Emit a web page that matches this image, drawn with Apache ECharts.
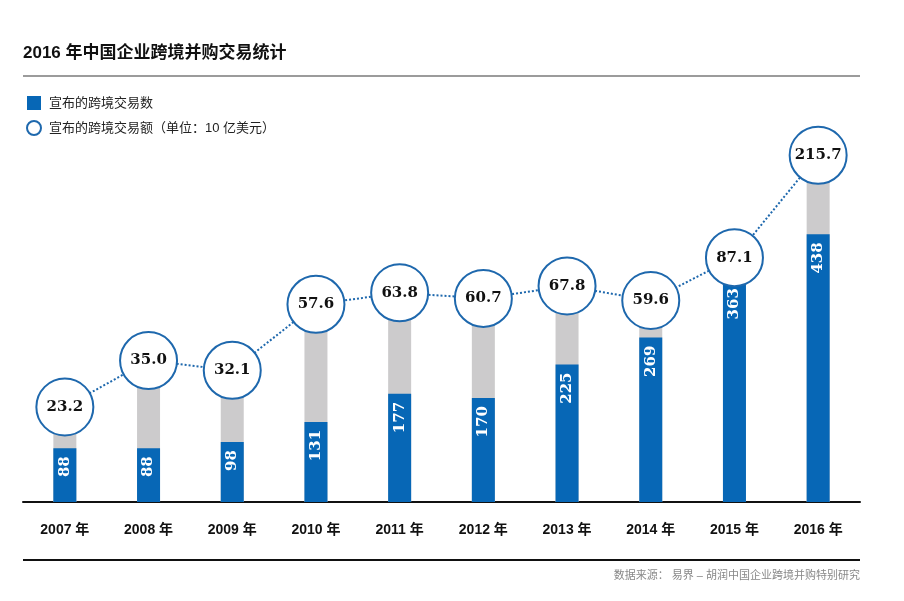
<!DOCTYPE html>
<html>
<head>
<meta charset="utf-8">
<script src="https://cdn.jsdelivr.net/npm/echarts@6/dist/echarts.min.js"></script>
<style>html,body{margin:0;padding:0;background:#fff}#c{width:904px;height:601px}</style>
</head>
<body>
<div id="c"></div>
<script>
var categories = ['2007 年','2008 年','2009 年','2010 年','2011 年','2012 年','2013 年','2014 年','2015 年','2016 年'];
var dealCounts = [88, 88, 98, 131, 177, 170, 225, 269, 363, 438];
var dealValues = [23.2, 35.0, 32.1, 57.6, 63.8, 60.7, 67.8, 59.6, 87.1, 215.7];
var countName = '宣布的跨境交易数';
var valueName = '宣布的跨境交易额（单位：10 亿美元）';

var BLUE = '#0767b6';
var CIRCLE = '#1e68ad';
var GRAY = '#cccbcc';
var chart = echarts.init(document.getElementById('c'));
var serifNum = '"DejaVu Serif", "Liberation Serif", serif';
var sans = '"Liberation Sans", "Noto Sans CJK SC", sans-serif';

chart.setOption({
  animation: false,
  title: {
    text: '2016 年中国企业跨境并购交易统计',
    left: 18, top: 40,
    textStyle: {fontSize: 17, fontWeight: 'bold', color: '#111', fontFamily: sans}
  },
  legend: {
    orient: 'vertical', left: 26, top: 96, padding: 0,
    itemWidth: 14, itemHeight: 14, itemGap: 10,
    textStyle: {fontSize: 13, color: '#222', fontFamily: sans, padding: [0, 0, 0, 3]},
    data: [
      {name: countName, icon: 'rect'},
      {name: valueName, icon: 'circle'}
    ],
    selectedMode: false
  },
  graphic: [
    {type: 'line', shape: {x1: 23, y1: 76, x2: 860, y2: 76}, style: {stroke: '#7a7a7a', lineWidth: 1.5}},
    {type: 'line', shape: {x1: 23, y1: 560, x2: 860, y2: 560}, style: {stroke: '#111', lineWidth: 2}},
    {type: 'text', x: 860, y: 576, style: {text: '数据来源： 易界 – 胡润中国企业跨境并购特别研究', textAlign: 'right', textVerticalAlign: 'middle', fill: '#888', fontSize: 11, fontFamily: sans}}
  ],
  grid: {left: 23, right: 44, top: 65, bottom: 99},
  xAxis: {
    type: 'category', data: categories,
    axisLine: {lineStyle: {color: '#111', width: 2}},
    axisTick: {show: false},
    axisLabel: {margin: 21, fontSize: 14, fontWeight: 'bold', color: '#111', fontFamily: sans}
  },
  yAxis: [
    {type: 'value', min: 0, max: 715, show: false, splitLine: {show: false}},
    {type: 'log', logBase: 10, min: 10, max: 480, show: false, splitLine: {show: false}}
  ],
  series: [
    {
      type: 'custom', name: 'bg', yAxisIndex: 1, z: 1, silent: true,
      data: dealValues.map(function (v, i) { return [i, v]; }),
      encode: {x: 0, y: 1},
      renderItem: function (params, api) {
        var top = api.coord([api.value(0), api.value(1)]);
        var bottom = api.coord([api.value(0), 10]);
        var w = 23;
        return {type: 'rect', shape: {x: top[0] - w / 2, y: top[1], width: w, height: bottom[1] - top[1]}, style: {fill: GRAY}};
      }
    },
    {
      type: 'bar', name: countName, yAxisIndex: 0, z: 2, barWidth: 23,
      data: dealCounts,
      itemStyle: {color: BLUE},
      label: {
        show: true, position: 'insideTop', rotate: 90, align: 'right', verticalAlign: 'middle',
        distance: 8, color: '#fff', fontSize: 15, fontWeight: 'bold', fontFamily: serifNum
      }
    },
    {
      type: 'line', name: valueName, yAxisIndex: 1, z: 5,
      data: dealValues,
      symbol: 'circle', symbolSize: 57,
      itemStyle: {color: '#fff', borderColor: CIRCLE, borderWidth: 2},
      lineStyle: {color: CIRCLE, width: 2, type: 'dotted'},
      label: {
        show: true, position: 'inside', color: '#111', fontSize: 15, fontWeight: 'bold', fontFamily: serifNum,
        formatter: function (p) { return p.value.toFixed(1); }
      }
    }
  ]
});
</script>
</body>
</html>
